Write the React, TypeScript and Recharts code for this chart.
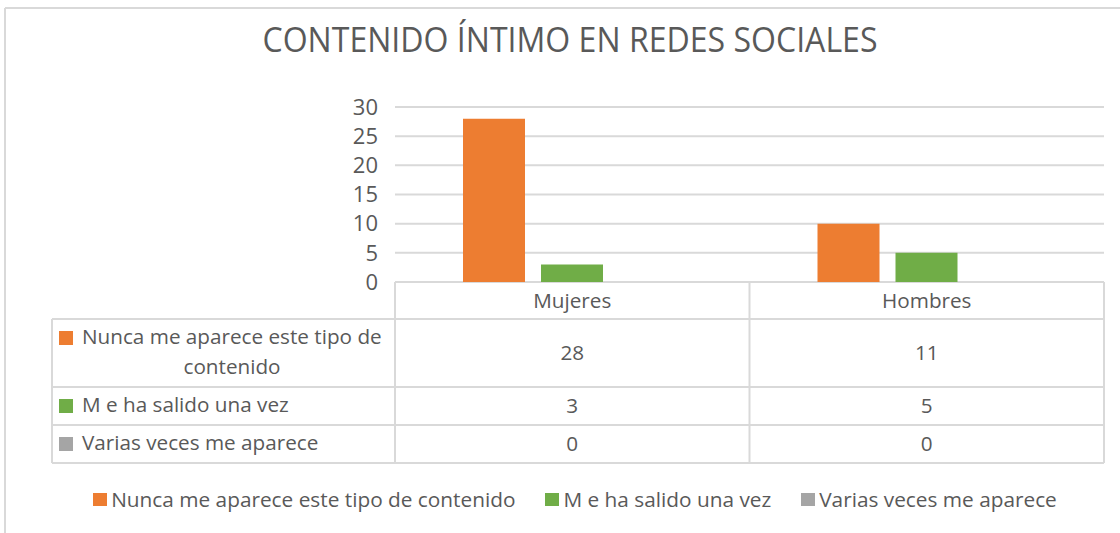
import { BarChart, Bar, XAxis, YAxis, CartesianGrid } from "recharts";

// categories and series
const categories = ["Mujeres", "Hombres"];
const nunca = [28, 10]; // bar height as drawn
const vez = [3, 5];
const varias = [0, 0];
// values printed in the data table under the plot
const nuncaTabla = ["28", "11"];
const vezTabla = ["3", "5"];
const variasTabla = ["0", "0"];
const yTicks = [0, 5, 10, 15, 20, 25, 30];

const SERIES = [
  { key: "nunca", label: "Nunca me aparece este tipo de contenido", color: "#ED7D31" },
  { key: "vez", label: "M e ha salido una vez", color: "#70AD47" },
  { key: "varias", label: "Varias veces me aparece", color: "#A5A5A5" },
];

const data = categories.map((cat, i) => ({
  cat,
  nunca: nunca[i],
  vez: vez[i],
  varias: varias[i],
}));

const W = 1120;
const H = 533;
const FONT = "'Open Sans', sans-serif";
const TEXT = "#595959";
const LINE = "#d9d9d9";

// plot box
const PL = 395;
const PR = 1104;
const PT = 107;
const PB = 282;

// table rows (top, bottom)
const ROWS = [PB, 319, 387, 425, 463];
const TABLE_LEFT = 52;

function DataTable() {
  const colW = (PR - PL) / categories.length;
  const colX = (i: number) => PL + colW * i + colW / 2;
  const rows = [
    { color: SERIES[0].color, lines: ["Nunca me aparece este tipo de", "contenido"], vals: nuncaTabla, base: 344 },
    { color: SERIES[1].color, lines: ["M e ha salido una vez"], vals: vezTabla, base: 412 },
    { color: SERIES[2].color, lines: ["Varias veces me aparece"], vals: variasTabla, base: 450 },
  ];
  const valBase = [360, 413, 451];
  return (
    <g fontFamily={FONT} fontSize={20.7} fill={TEXT}>
      {/* horizontal rules */}
      {ROWS.slice(1).map((y) => (
        <line key={y} x1={TABLE_LEFT} x2={PR} y1={y} y2={y} stroke={LINE} strokeWidth={2} />
      ))}
      {/* verticals */}
      <line x1={TABLE_LEFT} x2={TABLE_LEFT} y1={ROWS[1]} y2={ROWS[4]} stroke={LINE} strokeWidth={2} />
      {[0, 1, 2].map((i) => (
        <line key={i} x1={PL + colW * i} x2={PL + colW * i} y1={PB} y2={ROWS[4]} stroke={LINE} strokeWidth={2} />
      ))}
      {categories.map((c, i) => (
        <text key={c} x={colX(i)} y={308} textAnchor="middle">
          {c}
        </text>
      ))}
      {rows.map((r, ri) => (
        <g key={ri}>
          <rect x={59} y={r.base - 13} width={14} height={14} fill={r.color} />
          <text x={82} y={r.base}>{r.lines[0]}</text>
          {r.lines[1] && (
            <text x={232} y={r.base + 30} textAnchor="middle">
              {r.lines[1]}
            </text>
          )}
          {r.vals.map((v, i) => (
            <text key={i} x={colX(i)} y={valBase[ri]} textAnchor="middle">
              {v}
            </text>
          ))}
        </g>
      ))}
    </g>
  );
}

function LegendRow() {
  return (
    <div
      style={{
        position: "absolute",
        left: 0,
        top: 486,
        width: W,
        display: "flex",
        justifyContent: "center",
        paddingLeft: 30,
        boxSizing: "border-box",
        fontFamily: FONT,
        fontSize: 20.8,
        color: TEXT,
        lineHeight: "26px",
      }}
    >
      {SERIES.map((s, i) => (
        <div key={s.key} style={{ display: "flex", alignItems: "center", marginLeft: i ? 30 : 0 }}>
          <span style={{ width: 14, height: 13, background: s.color, marginRight: 4, display: "inline-block" }} />
          <span>{s.label}</span>
        </div>
      ))}
    </div>
  );
}

export default function App() {
  return (
    <div style={{ position: "absolute", left: 0, top: 0, width: W, height: H, background: "#fff" }}>
      <BarChart
        width={W}
        height={H}
        data={data}
        margin={{ top: PT, right: W - PR, bottom: H - PB, left: 0 }}
        barCategoryGap={68}
        barGap={16}
      >
        <CartesianGrid vertical={false} stroke={LINE} strokeWidth={2} horizontalValues={yTicks} />
        <XAxis dataKey="cat" hide />
        <YAxis
          width={PL}
          domain={[0, 30]}
          ticks={yTicks}
          interval={0}
          axisLine={false}
          tickLine={false}
          tickSize={0}
          tickMargin={17}
          tick={{ fill: TEXT, fontSize: 22, fontFamily: FONT }}
        />
        {SERIES.map((s) => (
          <Bar key={s.key} dataKey={s.key} fill={s.color} isAnimationActive={false} />
        ))}
      </BarChart>
      <svg
        width={W}
        height={H}
        style={{ position: "absolute", left: 0, top: 0, pointerEvents: "none" }}
      >
        <line x1={5} x2={W} y1={8} y2={8} stroke={LINE} strokeWidth={2} />
        <line x1={5} x2={5} y1={8} y2={H} stroke={LINE} strokeWidth={2} />
        <text
          x={570}
          y={52}
          textAnchor="middle"
          fontFamily={FONT}
          fontSize={34}
          fill={TEXT}
          textLength={615}
          lengthAdjust="spacingAndGlyphs"
        >
          CONTENIDO ÍNTIMO EN REDES SOCIALES
        </text>
        <DataTable />
      </svg>
      <LegendRow />
    </div>
  );
}
